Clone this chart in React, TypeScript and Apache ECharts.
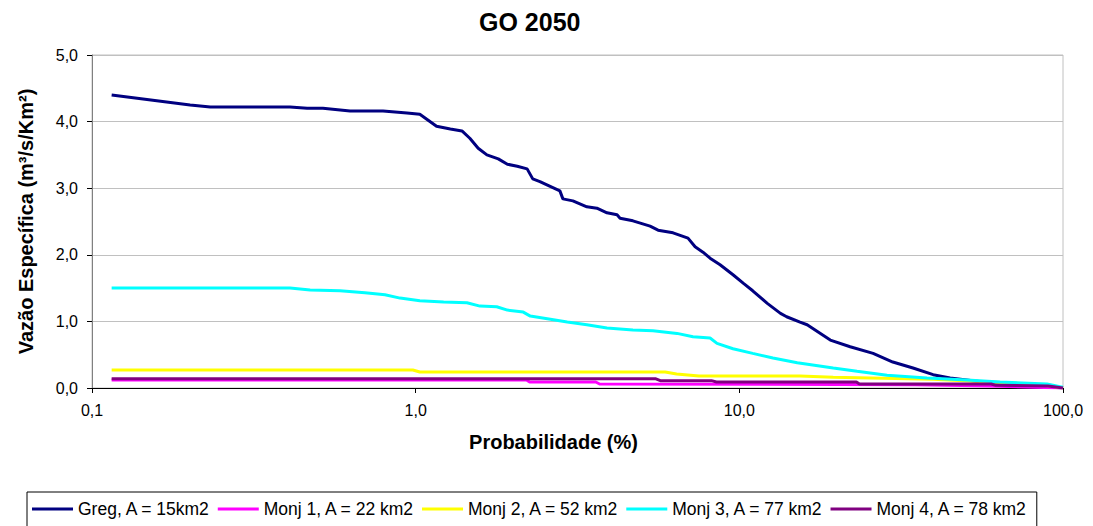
import React, { useEffect, useRef } from "react";
import * as echarts from "echarts";

const TITLE = "GO 2050";
const X_NAME = "Probabilidade (%)";
const Y_NAME = "Vazão Específica (m³/s/Km²)";

const SERIES_NAMES = [
  "Greg, A = 15km2",
  "Monj 1, A = 22 km2",
  "Monj 2, A = 52 km2",
  "Monj 3, A = 77 km2",
  "Monj 4, A = 78 km2",
];
const COLORS = ["#000080", "#FF00FF", "#FFFF00", "#00FFFF", "#800080"];

// [probability %, specific discharge]
const greg: number[][] = [
  [0.115, 4.4], [0.201, 4.25], [0.232, 4.22], [0.409, 4.22], [0.462, 4.2], [0.517, 4.2],
  [0.627, 4.16], [0.793, 4.16], [0.94, 4.13], [1.03, 4.11], [1.16, 3.93], [1.28, 3.89],
  [1.39, 3.86], [1.47, 3.75], [1.56, 3.6], [1.66, 3.5], [1.8, 3.44], [1.92, 3.36],
  [2.06, 3.33], [2.21, 3.29], [2.3, 3.14], [2.42, 3.1], [2.79, 2.96], [2.85, 2.84],
  [3.06, 2.81], [3.38, 2.72], [3.63, 2.7], [3.9, 2.63], [4.19, 2.6], [4.28, 2.55],
  [4.69, 2.51], [5.3, 2.43], [5.61, 2.37], [6.24, 2.33], [6.94, 2.25], [7.3, 2.12],
  [7.72, 2.04], [8.12, 1.95], [8.72, 1.85], [9.56, 1.7], [10.3, 1.57], [11.0, 1.46],
  [12.2, 1.27], [13.4, 1.12], [14.0, 1.07], [15.4, 0.99], [16.2, 0.95], [19.1, 0.72],
  [22.0, 0.62], [25.9, 0.52], [29.8, 0.39], [34.4, 0.3], [39.7, 0.2], [44.8, 0.15],
  [56.6, 0.09], [72.1, 0.05], [100, 0.0],
];

const monj1: number[][] = [
  [0.115, 0.12], [2.2, 0.12], [2.25, 0.09], [3.6, 0.09], [3.7, 0.06], [35, 0.05],
  [60, 0.03], [100, 0.0],
];

const monj2: number[][] = [
  [0.115, 0.27], [0.98, 0.27], [1.03, 0.24], [5.9, 0.24], [6.4, 0.21], [7.5, 0.18],
  [15.4, 0.18], [19.5, 0.16], [39.7, 0.13], [72, 0.07], [92, 0.03], [100, 0.0],
];

const monj3: number[][] = [
  [0.115, 1.5], [0.409, 1.5], [0.472, 1.47], [0.584, 1.46], [0.697, 1.43], [0.804, 1.4],
  [0.895, 1.35], [1.03, 1.31], [1.22, 1.29], [1.44, 1.28], [1.58, 1.23], [1.78, 1.22],
  [1.92, 1.17], [2.15, 1.14], [2.26, 1.08], [2.55, 1.04], [2.94, 0.99], [3.38, 0.95],
  [3.9, 0.9], [4.69, 0.87], [5.41, 0.86], [6.42, 0.82], [7.19, 0.77], [8.12, 0.75],
  [8.53, 0.67], [9.56, 0.59], [11.0, 0.52], [12.7, 0.45], [15.1, 0.38], [19.5, 0.3],
  [23.1, 0.25], [28.6, 0.19], [38.0, 0.15], [50.5, 0.12], [63.9, 0.09], [89.3, 0.06],
  [97.9, 0.02], [100, 0.01],
];

const monj4: number[][] = [
  [0.115, 0.14], [5.5, 0.14], [5.7, 0.11], [8.2, 0.11], [8.5, 0.09], [23, 0.09],
  [23.5, 0.06], [60, 0.06], [62, 0.04], [90, 0.03], [100, 0.0],
];

const SERIES_DATA = [greg, monj1, monj2, monj3, monj4];

const X_MIN = 0.1;
const X_MAX = 100;
const Y_MIN = 0;
const Y_MAX = 5;
const Y_STEP = 1;

const FONT = "'Liberation Sans', Arial, Helvetica, sans-serif";

const fmt = (v: number) => Number(v).toFixed(1).replace(".", ",");

export default function App() {
  const ref = useRef<HTMLDivElement>(null);
  useEffect(() => {
    if (!ref.current) return;
    const chart = echarts.init(ref.current, null, { renderer: "svg" });
    chart.setOption({
      animation: false,
      backgroundColor: "#ffffff",
      textStyle: { fontFamily: FONT },
      title: {
        text: TITLE,
        left: 474,
        top: 4,
        textStyle: { fontFamily: FONT, fontWeight: "bold", fontSize: 25, color: "#000" },
      },
      grid: {
        left: 92,
        right: 30,
        top: 55,
        bottom: 138,
        show: true,
        borderColor: "#c0c0c0",
        borderWidth: 1,
        backgroundColor: "transparent",
      },
      legend: {
        left: 27,
        top: 492,
        orient: "horizontal",
        icon: "rect",
        itemWidth: 41,
        itemHeight: 3,
        itemGap: 7,
        padding: [8, 9, 30, 5],
        borderColor: "#000",
        borderWidth: 1,
        textStyle: { fontFamily: FONT, fontSize: 17.5, color: "#000" },
        data: SERIES_NAMES,
      },
      xAxis: {
        type: "log",
        logBase: 10,
        min: X_MIN,
        max: X_MAX,
        name: X_NAME,
        nameLocation: "middle",
        nameGap: 44,
        nameTextStyle: {
          fontFamily: FONT,
          fontWeight: "bold",
          fontSize: 20,
          color: "#000",
          padding: [0, 48, 0, 0],
        },
        axisLine: { show: true, onZero: false, lineStyle: { color: "#000", width: 1 } },
        axisTick: { show: true, inside: false, length: 5, lineStyle: { color: "#000" } },
        minorTick: { show: false },
        splitLine: { show: false },
        axisLabel: {
          fontFamily: FONT,
          fontSize: 16,
          color: "#000",
          margin: 14,
          formatter: (v: number) => fmt(v),
        },
      },
      yAxis: {
        type: "value",
        min: Y_MIN,
        max: Y_MAX,
        interval: Y_STEP,
        name: Y_NAME,
        nameLocation: "middle",
        nameGap: 56,
        nameTextStyle: { fontFamily: FONT, fontWeight: "bold", fontSize: 20, color: "#000" },
        axisLine: { show: true, lineStyle: { color: "#808080", width: 1 } },
        axisTick: { show: true, inside: false, length: 5, lineStyle: { color: "#000" } },
        splitLine: { show: true, lineStyle: { color: "#c0c0c0", width: 1 } },
        axisLabel: {
          fontFamily: FONT,
          fontSize: 16,
          color: "#000",
          margin: 14,
          formatter: (v: number) => fmt(v),
        },
      },
      series: SERIES_NAMES.map((name, i) => ({
        name,
        type: "line",
        data: SERIES_DATA[i],
        showSymbol: false,
        symbol: "none",
        color: COLORS[i],
        lineStyle: { color: COLORS[i], width: 3 },
        z: 2 + i,
      })),
    });
    return () => chart.dispose();
  }, []);
  return <div ref={ref} style={{ width: 1093, height: 526, position: "absolute", left: 0, top: 0 }} />;
}
